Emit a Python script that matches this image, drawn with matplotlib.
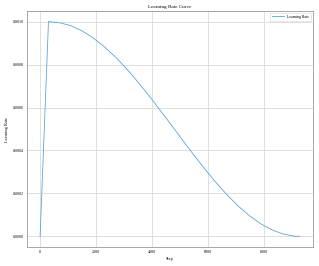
import matplotlib.pyplot as plt

# values (warmup then decay)
steps = [0, 300, 700, 1100, 1500, 1900, 2300, 2700, 3100, 3500, 3900, 4300,
         4700, 5100, 5500, 5900, 6300, 6700, 7100, 7500, 7900, 8300, 8700,
         9100, 9300]
lr = [0.0, 0.0010, 0.000995, 0.000981, 0.000957, 0.000924, 0.000883,
      0.000835, 0.000780, 0.000719, 0.000655, 0.000587, 0.000518, 0.000448,
      0.000379, 0.000313, 0.000250, 0.000192, 0.000140, 0.0000955,
      0.0000585, 0.0000302, 0.0000109, 0.0000012, 0.0]
yticks = [0.0, 0.0002, 0.0004, 0.0006, 0.0008, 0.0010]
xticks = [0, 2000, 4000, 6000, 8000]

plt.rcParams['font.family'] = ['Liberation Serif', 'DejaVu Serif']

fig = plt.figure(figsize=(3.19, 2.66), dpi=100)
ax = fig.add_axes([0.085, 0.071, 0.896, 0.888])

ax.plot(steps, lr, color="#5aa5d8", linewidth=0.6, label="Learning Rate")

ax.set_xticks(xticks)
ax.set_yticks(yticks)
ax.set_yticklabels(["%.4f" % v for v in yticks])
ax.tick_params(length=0, pad=2, labelsize=2.9)
ax.grid(True, color="#d9d9d9", linewidth=0.6)
for s in ax.spines.values():
    s.set_color("#999999")
    s.set_linewidth(0.6)

ax.set_title("Learning Rate Curve", fontsize=3.7, pad=2)
ax.set_xlabel("Step", fontsize=3.2, labelpad=2)
ax.set_ylabel("Learning Rate", fontsize=3.2, labelpad=3)
leg = ax.legend(fontsize=2.8, loc="upper right", fancybox=False,
                handlelength=3, borderpad=0.5)
leg.get_frame().set_linewidth(0.4)
leg.get_frame().set_edgecolor("#cccccc")

plt.savefig("out.png", dpi=100)
